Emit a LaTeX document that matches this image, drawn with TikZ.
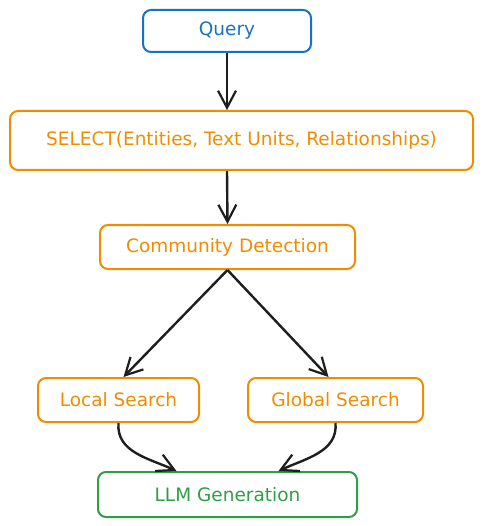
\documentclass[tikz,border=0pt]{standalone}
\usepackage{fontspec}
\setmainfont{DejaVu Sans}
\usepackage{tikz}
\usetikzlibrary{arrows.meta}
\usepackage{xcolor}
\definecolor{qblue}{HTML}{1971C2}
\definecolor{sorange}{HTML}{F08C00}
\definecolor{lgreen}{HTML}{2F9E44}
\definecolor{arrowgray}{HTML}{1E1E1E}

\begin{document}
\begin{tikzpicture}[x = 1pt, y = -1pt,
  box/.style = {draw, line width = 2pt, rounded corners = 8pt, inner sep = 0pt,
    font = \fontsize{18.5}{21}\selectfont},
  link/.style = {draw = arrowgray, line width = 2.4pt,
    -{Straight Barb[length = 17pt, width = 18pt, line width = 2.2pt]}}]
  \useasboundingbox (0, 0) rectangle (483, 526);
  \node[box, qblue, text = qblue, minimum width = 168pt, minimum height = 42pt] at (227, 31) (query) {Query};
  \node[box, sorange, text = sorange, minimum width = 463pt, minimum height = 59pt] at (241.5, 140.5) (select) {SELECT(Entities, Text Units, Relationships)};
  \node[box, sorange, text = sorange, minimum width = 255pt, minimum height = 44pt] at (227.5, 247) (community) {Community Detection};
  \node[box, sorange, text = sorange, minimum width = 161pt, minimum height = 44pt] at (118.5, 400) (local) {Local Search};
  \node[box, sorange, text = sorange, minimum width = 175pt, minimum height = 44pt] at (335.5, 400) (global) {Global Search};
  \node[box, lgreen, text = lgreen, minimum width = 259pt, minimum height = 45pt] at (227.5, 494.5) (llm) {LLM Generation};
  \draw[link] (query.south) -- (query.south |- select.north);
  \draw[link] ([xshift = -14.5pt]select.south) -- (community.north);
  \draw[link] (community.south) -- ([xshift = 5pt]local.north);
  \draw[link] (community.south) -- ([xshift = -7pt]global.north);
  \draw[link] (local.south) to[out = -95, in = 155] ([xshift = -51pt]llm.north);
  \draw[link] (global.south) to[out = -85, in = 25] ([xshift = 51pt]llm.north);
\end{tikzpicture}
\end{document}
